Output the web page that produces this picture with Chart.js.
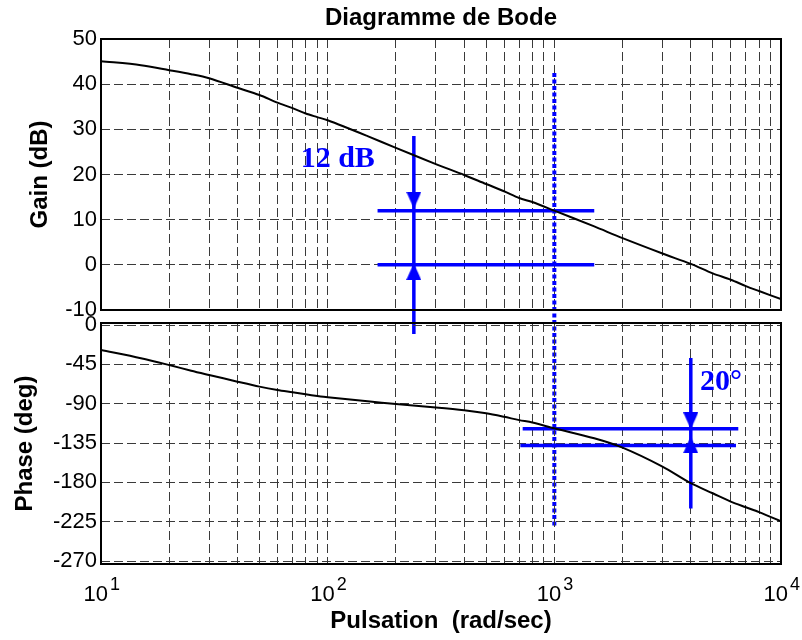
<!DOCTYPE html>
<html>
<head>
<meta charset="utf-8">
<script src="https://cdn.jsdelivr.net/npm/chart.js@4.4.1/dist/chart.umd.min.js"></script>
<style>
  body { margin: 0; background: #fff; }
  #wrap { position: relative; width: 802px; height: 640px; }
  #wrap canvas { position: absolute; left: 0; top: 0; }
</style>
</head>
<body>
<div id="wrap">
  <canvas id="gainChart" width="802" height="640"></canvas>
  <canvas id="phaseChart" width="802" height="640"></canvas>
</div>
<script>
var pulsations = [10, 15, 20, 25, 30, 40, 50, 60, 70, 80, 90, 100, 150, 200, 300, 400, 500, 600, 700, 800,
                  1000, 1500, 2000, 3000, 4000, 5000, 6000, 7000, 8000, 10000];
var gainDb = [45.1, 44.2, 43.1, 42.2, 41.3, 39.2, 37.6, 35.9, 34.7, 33.5, 32.7, 32.0, 28.5, 25.9, 22.3, 19.9, 17.9, 16.3, 14.8, 13.9,
              12.0, 8.5, 5.9, 2.5, 0.2, -1.9, -3.3, -4.7, -5.8, -7.6];
var phaseDeg = [-28.6, -38, -45.8, -52.3, -57.2, -64.8, -70.5, -74.4, -77, -79.3, -81.2, -82.7, -87.3, -90.4, -94.3, -97.5, -101, -105, -108.8, -111.5,
                -118.2, -129.6, -140.3, -162, -181, -192.5, -202, -208.5, -214, -224.5];

// graduations
var xTicks = [10, 20, 30, 40, 50, 60, 70, 80, 90, 100, 200, 300, 400, 500, 600, 700, 800, 900,
              1000, 2000, 3000, 4000, 5000, 6000, 7000, 8000, 9000, 10000];
var decades = [1, 2, 3, 4];
var gainTicks = [-10, 0, 10, 20, 30, 40, 50];
var phaseTicks = [-270, -225, -180, -135, -90, -45, 0];

// marge de gain (12 dB)
var wGain = 240;
var gainArrow = [28.5, -15.3];
var gainLevels = [12, 0];
var gainLevelSpan = [166, 1500];
var gainHeads = [14.3, -1.5];
var gainNote = ['12 dB', 76, 21.6];

// pulsation de coupure (pointillé)
var wCross = 1000;
var crossSpan = [42.5, -58];

// marge de phase (20°)
var wPhase = 4000;
var phaseArrow = [-37.6, -210];
var phaseLevels = [-118.7, -137.8];
var phaseLevelSpans = [[725, 6480], [708, 6330]];
var phaseHeads = [-109.6, -137];
var phaseNote = ['20°', 4395, -74.6];

var SANS = 'Arial, "Liberation Sans", sans-serif';
var SERIF = '"Times New Roman", "Liberation Serif", serif';
var BLUE = '#0000ff';

function arrowHead(w, h) {
  var c = document.createElement('canvas');
  c.width = w; c.height = h;
  var g = c.getContext('2d');
  g.fillStyle = BLUE;
  g.beginPath();
  g.moveTo(0, 0); g.lineTo(w, 0); g.lineTo(w / 2, h);
  g.closePath(); g.fill();
  return c;
}
var head = arrowHead(15, 17);

function pts(xs, ys) {
  return xs.map(function (x, i) { return { x: x, y: ys[i] }; });
}
function hLine(span, y) {
  return { data: [{ x: span[0], y: y }, { x: span[1], y: y }], borderColor: BLUE, borderWidth: 3.5, pointRadius: 0 };
}
function vLine(x, span, extra) {
  var d = { data: [{ x: x, y: span[0] }, { x: x, y: span[1] }], borderColor: BLUE, borderWidth: 3.5, pointRadius: 0, clip: false };
  return Object.assign(d, extra || {});
}
function heads(x, ys) {
  return { data: ys.map(function (y) { return { x: x, y: y }; }), showLine: false,
           pointStyle: head, pointRadius: 8, pointRotation: [0, 180] };
}

function setTicks(list) {
  return function (axis) { axis.ticks = list.map(function (v) { return { value: v }; }); };
}

var gridOpts = { color: '#3a3a3a', lineWidth: 1, drawTicks: false };
var borderOpts = { display: false, dash: [9, 4] };

// cadre noir + texte en coordonnées de données
var cadre = {
  id: 'cadre',
  afterDraw: function (chart) {
    var a = chart.chartArea, ctx = chart.ctx;
    ctx.save();
    ctx.strokeStyle = '#000';
    ctx.lineWidth = 2;
    ctx.strokeRect(a.left, a.top, a.right - a.left, a.bottom - a.top);
    var note = chart.options.plugins.cadre.note;
    if (note) {
      ctx.fillStyle = BLUE;
      ctx.font = 'bold 30px ' + SERIF;
      ctx.textAlign = 'left';
      ctx.textBaseline = 'alphabetic';
      ctx.fillText(note[0], chart.scales.x.getPixelForValue(note[1]), chart.scales.y.getPixelForValue(note[2]));
    }
    if (chart.options.plugins.cadre.decades) {
      var xs = chart.scales.x;
      ctx.fillStyle = '#000';
      ctx.textAlign = 'left';
      decades.forEach(function (p) {
        var px = xs.getPixelForValue(Math.pow(10, p));
        ctx.font = '22px ' + SANS;
        var w = ctx.measureText('10').width;
        var x0 = px - 17.5;
        ctx.fillText('10', x0, 601);
        ctx.font = '18px ' + SANS;
        ctx.fillText(String(p), x0 + w + 2, 590);
      });
    }
    ctx.restore();
  }
};

var common = {
  responsive: false,
  animation: false,
  events: []
};

new Chart(document.getElementById('gainChart').getContext('2d'), {
  type: 'scatter',
  data: {
    datasets: [
      { data: pts(pulsations, gainDb), borderColor: '#000', borderWidth: 2, pointRadius: 0, tension: 0.3 },
      hLine(gainLevelSpan, gainLevels[0]),
      hLine(gainLevelSpan, gainLevels[1]),
      vLine(wGain, gainArrow),
      heads(wGain, gainHeads),
      vLine(wCross, crossSpan, { borderWidth: 4, borderDash: [4, 2.5] })
    ].map(function (d) { d.showLine = d.showLine !== false; return d; })
  },
  options: Object.assign({}, common, {
    layout: { padding: { left: 0, right: 21, top: 0, bottom: 330 } },
    plugins: {
      legend: { display: false },
      tooltip: { enabled: false },
      title: { display: true, text: 'Diagramme de Bode', fullSize: false, color: '#000',
               font: { family: SANS, size: 24, weight: 'bold' }, padding: { top: 3.5, bottom: 6.7 } },
      cadre: { note: gainNote }
    },
    scales: {
      x: { type: 'logarithmic', min: 10, max: 10000, afterBuildTicks: setTicks(xTicks),
           ticks: { display: false }, grid: gridOpts, border: borderOpts,
           afterFit: function (s) { s.height = 0; } },
      y: { min: -10, max: 50, afterBuildTicks: setTicks(gainTicks),
           ticks: { color: '#000', padding: 4, font: { family: SANS, size: 22 } },
           grid: gridOpts, border: borderOpts,
           title: { display: true, text: 'Gain (dB)', color: '#000', font: { family: SANS, size: 24, weight: 'bold' }, padding: { top: 25.6, bottom: 0 } },
           afterFit: function (s) { s.width = 101; } }
    }
  }),
  plugins: [cadre]
});

new Chart(document.getElementById('phaseChart').getContext('2d'), {
  type: 'scatter',
  data: {
    datasets: [
      { data: pts(pulsations, phaseDeg), borderColor: '#000', borderWidth: 2, pointRadius: 0, tension: 0.3 },
      hLine(phaseLevelSpans[0], phaseLevels[0]),
      hLine(phaseLevelSpans[1], phaseLevels[1]),
      vLine(wPhase, phaseArrow),
      heads(wPhase, phaseHeads)
    ].map(function (d) { d.showLine = d.showLine !== false; return d; })
  },
  options: Object.assign({}, common, {
    layout: { padding: { left: 0, right: 21, top: 323, bottom: 0 } },
    plugins: {
      legend: { display: false },
      tooltip: { enabled: false },
      cadre: { note: phaseNote, decades: true }
    },
    scales: {
      x: { type: 'logarithmic', min: 10, max: 10000, afterBuildTicks: setTicks(xTicks),
           ticks: { display: false }, grid: gridOpts, border: borderOpts,
           title: { display: true, text: 'Pulsation  (rad/sec)', color: '#000', font: { family: SANS, size: 24, weight: 'bold' }, padding: { top: 0, bottom: 4.1 } },
           afterFit: function (s) { s.height = 76; } },
      y: { min: -273.4, max: 2.3, afterBuildTicks: setTicks(phaseTicks),
           ticks: { color: '#000', padding: 4, font: { family: SANS, size: 22 } },
           grid: gridOpts, border: borderOpts,
           title: { display: true, text: 'Phase (deg)', color: '#000', font: { family: SANS, size: 24, weight: 'bold' }, padding: { top: 10.6, bottom: 0 } },
           afterFit: function (s) { s.width = 101; } }
    }
  }),
  plugins: [cadre]
});
</script>
</body>
</html>
